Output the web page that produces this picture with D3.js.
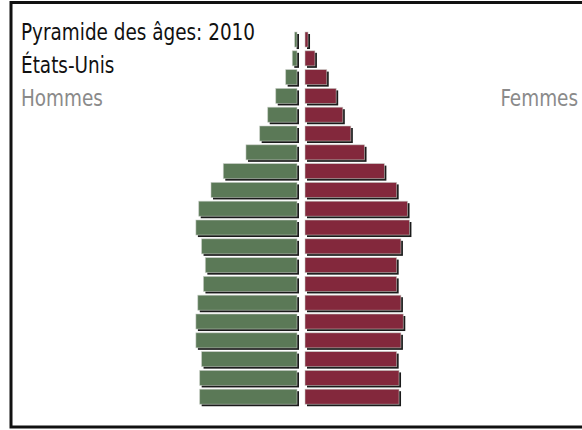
<!DOCTYPE html>
<html>
<head>
<meta charset="utf-8">
<script src="https://cdn.jsdelivr.net/npm/d3@7"></script>
<style>
  body { margin: 0; background: #fff; }
  svg { display: block; }
  text { font-family: "DejaVu Sans Condensed", "DejaVu Sans", sans-serif; }
</style>
</head>
<body>
<div class="pyramid"></div>
<script>
//Width and height
var width = 582;
var height = 430;

// age groups, youngest first
var ages = ["0-4", "5-9", "10-14", "15-19", "20-24", "25-29", "30-34", "35-39",
            "40-44", "45-49", "50-54", "55-59", "60-64", "65-69", "70-74",
            "75-79", "80-84", "85-89", "90-94", "95+"];

// population in millions, same order as ages
var males = [10.3, 10.3, 10.1, 10.7, 10.7, 10.5, 9.9, 9.7, 10.1, 10.7,
             10.4, 9.1, 7.8, 5.4, 3.95, 3.1, 2.25, 1.2, 0.5, 0.25];
var females = [9.95, 9.95, 9.7, 10.15, 10.4, 10.15, 9.7, 9.7, 10.15, 11.05,
               10.85, 9.7, 8.4, 6.3, 4.85, 4.0, 3.3, 2.3, 1.05, 0.32];

var titleLines = ["Pyramide des âges: 2010", "États-Unis"];
var sideLabels = ["Hommes", "Femmes"];

var maleColor = "#5b7957";
var femaleColor = "#83283c";
var maleEdge = 297;
var femaleEdge = 305;

// Scales
var xScale = d3.scaleLinear()
               .domain([0, 10])
               .range([0, 94.5]);

var yScale = d3.scaleBand()
               .domain(ages.slice().reverse())
               .range([32, 32 + 18.8 * 19.8])
               .paddingInner(0.2)
               .paddingOuter(0)
               .align(0);

var svg = d3.select(".pyramid")
            .append("svg")
            .attr("width", width)
            .attr("height", height);

// frame (runs off the right side)
svg.append("rect")
   .attr("x", 11)
   .attr("y", 2.5)
   .attr("width", 640)
   .attr("height", 424.5)
   .style("fill", "none")
   .style("stroke", "#111")
   .style("stroke-width", 3);

var rows = ages.map(function(a, i) {
  return { age: a, m: males[i], f: females[i] };
});

var drawSide = function(cls, color, xPos, val) {
  var g = svg.append("g").attr("class", cls);

  // drop shadow
  g.selectAll("rect.shadow")
   .data(rows)
   .enter()
   .append("rect")
   .attr("class", "shadow")
   .attr("x", function(d) { return xPos(d) + 2; })
   .attr("y", function(d) { return yScale(d.age) + 2; })
   .attr("width", function(d) { return xScale(val(d)); })
   .attr("height", yScale.bandwidth())
   .style("fill", "#1a1a1a");

  g.selectAll("rect.bar")
   .data(rows)
   .enter()
   .append("rect")
   .attr("class", "bar")
   .attr("x", xPos)
   .attr("y", function(d) { return yScale(d.age); })
   .attr("width", function(d) { return xScale(val(d)); })
   .attr("height", yScale.bandwidth())
   .style("fill", color)
   .style("stroke", "#c9cfc8")
   .style("stroke-width", 0.8)
   .style("stroke-opacity", 0.7);
};

drawSide("hommes", maleColor,
         function(d) { return maleEdge - xScale(d.m); },
         function(d) { return d.m; });
drawSide("femmes", femaleColor,
         function(d) { return femaleEdge; },
         function(d) { return d.f; });

// narrow, tall lettering like the original
var addText = function(x, y, str, color, anchor) {
  svg.append("text")
     .attr("transform", "translate(" + x + "," + y + ") scale(0.89,1)")
     .attr("text-anchor", anchor)
     .style("font-size", "23px")
     .style("fill", color)
     .text(str);
};

titleLines.forEach(function(t, i) {
  addText(21, 40 + i * 33, t, "#111", "start");
});
addText(21, 106, sideLabels[0], "#8a8a8a", "start");
addText(578, 106, sideLabels[1], "#8a8a8a", "end");
</script>
</body>
</html>
